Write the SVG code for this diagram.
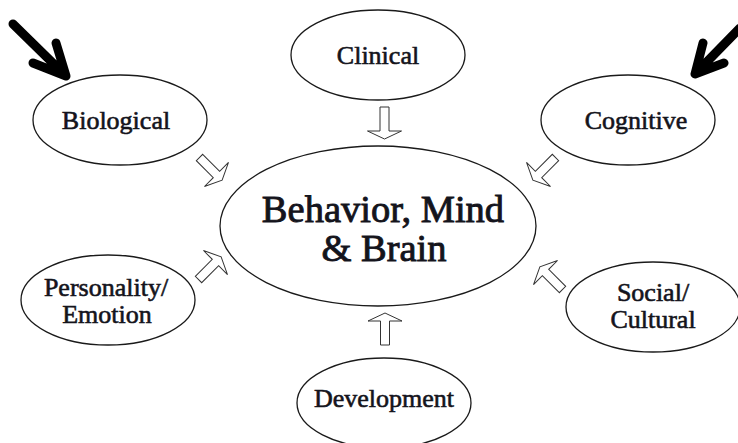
<svg xmlns="http://www.w3.org/2000/svg" width="738" height="443" viewBox="0 0 738 443">
  <defs>
    <style>
      .node ellipse { fill: #ffffff; stroke: #1a1a1a; stroke-width: 1.3; }
      .node text { font-family: "Liberation Serif", "Times New Roman", serif; font-weight: normal; font-size: 26px; fill: #14141c; stroke: #14141c; stroke-width: 0.6; text-anchor: middle; }
      .node.main text { font-size: 38.5px; stroke-width: 0.9; }
      .block { fill: #ffffff; stroke: #333333; stroke-width: 1; stroke-linejoin: miter; }
      .pointer { fill: none; stroke: #000000; stroke-width: 9; stroke-linecap: round; stroke-linejoin: round; }
    </style>
    <path id="blockArrow" d="M0,-4.5 L24,-4.5 L24,-17 L32,0 L24,17 L24,4.5 L0,4.5 Z"/>
  </defs>
  <rect width="738" height="443" fill="#ffffff"/>

  <g id="connectors">
    <use href="#blockArrow" class="block" transform="translate(384.5,107) rotate(90)"/>
    <use href="#blockArrow" class="block" transform="translate(385,345) rotate(-90)"/>
    <use href="#blockArrow" class="block" transform="translate(199.5,157.5) rotate(45)"/>
    <use href="#blockArrow" class="block" transform="translate(555.5,157.5) rotate(135)"/>
    <use href="#blockArrow" class="block" transform="translate(198.5,279.5) rotate(-45)"/>
    <use href="#blockArrow" class="block" transform="translate(562.5,289.5) rotate(-135)"/>
    <path class="pointer" d="M13,24 L65,75 M33,63 L66,76 L56,43"/>
    <path class="pointer" d="M740,28 L696,73 M703,43 L695,74 L724,63"/>
  </g>

  <g id="node-main" class="node main">
    <ellipse cx="378" cy="226" rx="158" ry="80"/>
    <text x="383" y="222">Behavior, Mind</text>
    <text x="384" y="261">&amp; Brain</text>
  </g>
  <g id="node-clinical" class="node">
    <ellipse cx="378" cy="55" rx="87" ry="45"/>
    <text x="378" y="64">Clinical</text>
  </g>
  <g id="node-biological" class="node">
    <ellipse cx="120" cy="120" rx="87" ry="45"/>
    <text x="116" y="129">Biological</text>
  </g>
  <g id="node-cognitive" class="node">
    <ellipse cx="628" cy="120" rx="87" ry="45"/>
    <text x="636" y="129">Cognitive</text>
  </g>
  <g id="node-personality" class="node">
    <ellipse cx="108" cy="300" rx="87" ry="45"/>
    <text x="106" y="296">Personality/</text>
    <text x="107" y="323">Emotion</text>
  </g>
  <g id="node-social" class="node">
    <ellipse cx="653" cy="307" rx="87" ry="45"/>
    <text x="653" y="301">Social/</text>
    <text x="653" y="328">Cultural</text>
  </g>
  <g id="node-development" class="node">
    <ellipse cx="384" cy="403" rx="87" ry="45"/>
    <text x="384" y="407">Development</text>
  </g>
</svg>
